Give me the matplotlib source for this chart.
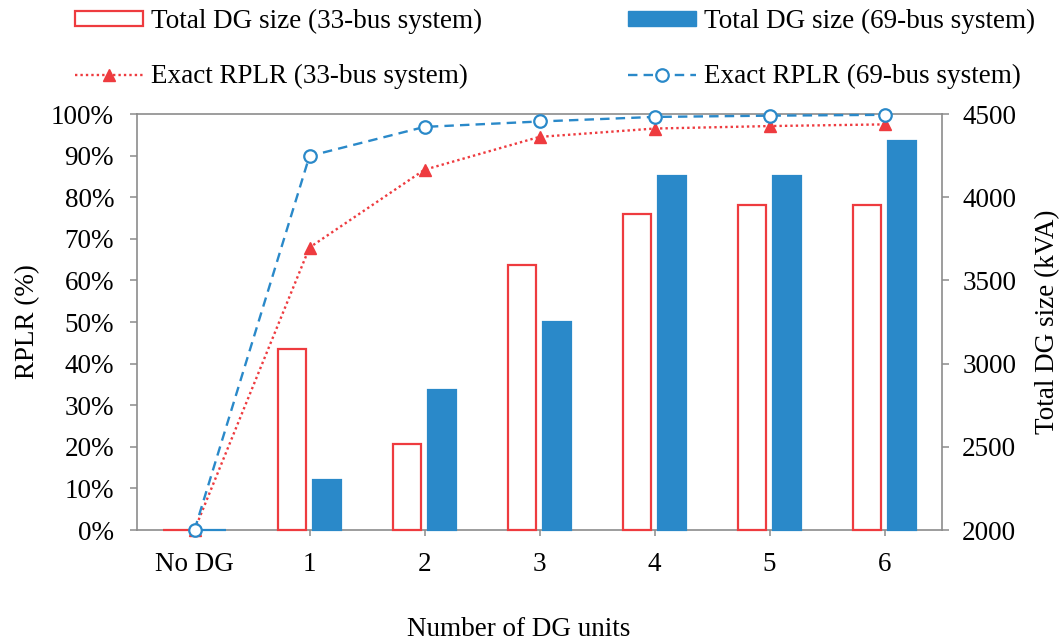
import matplotlib
matplotlib.use("Agg")
import matplotlib.pyplot as plt
from matplotlib.patches import Patch
from matplotlib.lines import Line2D

plt.rcParams['font.family'] = ['Liberation Serif', 'DejaVu Serif']

# Data
categories = ["No DG", "1", "2", "3", "4", "5", "6"]
dg_size_33 = [2000, 3088, 2517, 3594, 3901, 3953, 3953]      # kVA
dg_size_69 = [2000, 2299, 2840, 3248, 4126, 4127, 4336]      # kVA
rplr_33 = [0.0, 67.9, 86.6, 94.5, 96.5, 97.1, 97.5]          # %
rplr_69 = [0.0, 89.9, 96.9, 98.2, 99.3, 99.6, 99.8]          # %

RED = "#EE3B3F"
BLUE = "#2A89C9"
GRID = "#8C8C8C"
FS = 19.5

fig = plt.figure(figsize=(10.64, 6.43), dpi=100)
ax = fig.add_axes([137 / 1064, 1 - 530 / 643, 805 / 1064, 416 / 643])
ax2 = ax.twinx()

x = list(range(len(categories)))
base = 2000
w = 0.25
off = 0.152

# Bars on the secondary (kVA) axis, above its frame so zero-height bars show
ax2.bar([i - off for i in x], [v - base for v in dg_size_33], width=w, bottom=base,
        facecolor="white", edgecolor=RED, linewidth=1.6, zorder=3, clip_on=False)
ax2.bar([i + off for i in x], [v - base for v in dg_size_69], width=w, bottom=base,
        facecolor=BLUE, edgecolor=BLUE, linewidth=1.6, zorder=3, clip_on=False)
ax2.set_ylim(2000, 4500)
ax2.set_yticks(range(2000, 4501, 500))

# Lines on the primary (RPLR) axis, drawn above the bars
ax.set_zorder(ax2.get_zorder() + 1)
ax.patch.set_visible(False)
ax.plot(x, rplr_33, color=RED, linestyle=(0, (1, 1.3)), linewidth=1.7,
        marker="^", markersize=9, markerfacecolor=RED, markeredgecolor=RED,
        clip_on=False, zorder=3)
ax.plot(x, rplr_69, color=BLUE, linestyle=(0, (4, 2.6)), linewidth=1.7,
        marker="o", markersize=9, markerfacecolor="white", markeredgecolor=BLUE,
        markeredgewidth=1.6, clip_on=False, zorder=4)

ax.set_xlim(-0.5, len(categories) - 0.5)
ax.set_ylim(0, 100)
ax.set_yticks(range(0, 101, 10))
ax.set_yticklabels([f"{v}%" for v in range(0, 101, 10)])
ax.set_xticks(x)
ax.set_xticklabels(categories)

# Frame is drawn by the secondary axes only
for s in ax.spines.values():
    s.set_visible(False)
for s in ax2.spines.values():
    s.set_color(GRID)
    s.set_linewidth(1.2)
    s.set_zorder(2.5)
ax.tick_params(axis="y", direction="out", length=5, width=1.1, color=GRID,
               labelsize=FS, pad=11.5)
ax.tick_params(axis="x", direction="out", length=4, width=1.1, color=GRID,
               labelsize=FS, pad=12)
ax2.tick_params(axis="y", direction="out", length=5, width=1.1, color=GRID,
                labelsize=FS, pad=9.5)

ax.set_ylabel("RPLR (%)", fontsize=FS)
ax.yaxis.set_label_coords((28 - 137) / 805, 0.5)
ax.yaxis.label.set_va("center")
ax2.set_ylabel("Total DG size (kVA)", fontsize=FS, rotation=90)
ax2.yaxis.set_label_coords((1048 - 137) / 805, 0.5)
ax2.yaxis.label.set_va("center")
ax.set_xlabel("Number of DG units", fontsize=FS)
ax.xaxis.set_label_coords((519 - 137) / 805, (530 - 629) / 416)
ax.xaxis.label.set_va("center")

handles = [
    Patch(facecolor="white", edgecolor=RED, linewidth=1.6),
    Line2D([], [], color=RED, linestyle=(0, (1, 1.3)), linewidth=1.7, marker="^",
           markersize=9, markerfacecolor=RED, markeredgecolor=RED),
    Patch(facecolor=BLUE, edgecolor=BLUE),
    Line2D([], [], color=BLUE, linestyle=(0, (4, 2.6)), linewidth=1.7, marker="o",
           markersize=9, markerfacecolor="white", markeredgecolor=BLUE,
           markeredgewidth=1.6),
]
labels = ["Total DG size (33-bus system)", "Exact RPLR (33-bus system)",
          "Total DG size (69-bus system)", "Exact RPLR (69-bus system)"]
fig.legend(handles, labels, ncol=2, loc="upper left",
           bbox_to_anchor=(64 / 1064, 1 + 2 / 643), frameon=False, fontsize=FS,
           handlelength=2.5, handleheight=0.5, handletextpad=0.3,
           columnspacing=5.4, labelspacing=1.12, borderaxespad=0)

fig.savefig("out.png", dpi=100)
